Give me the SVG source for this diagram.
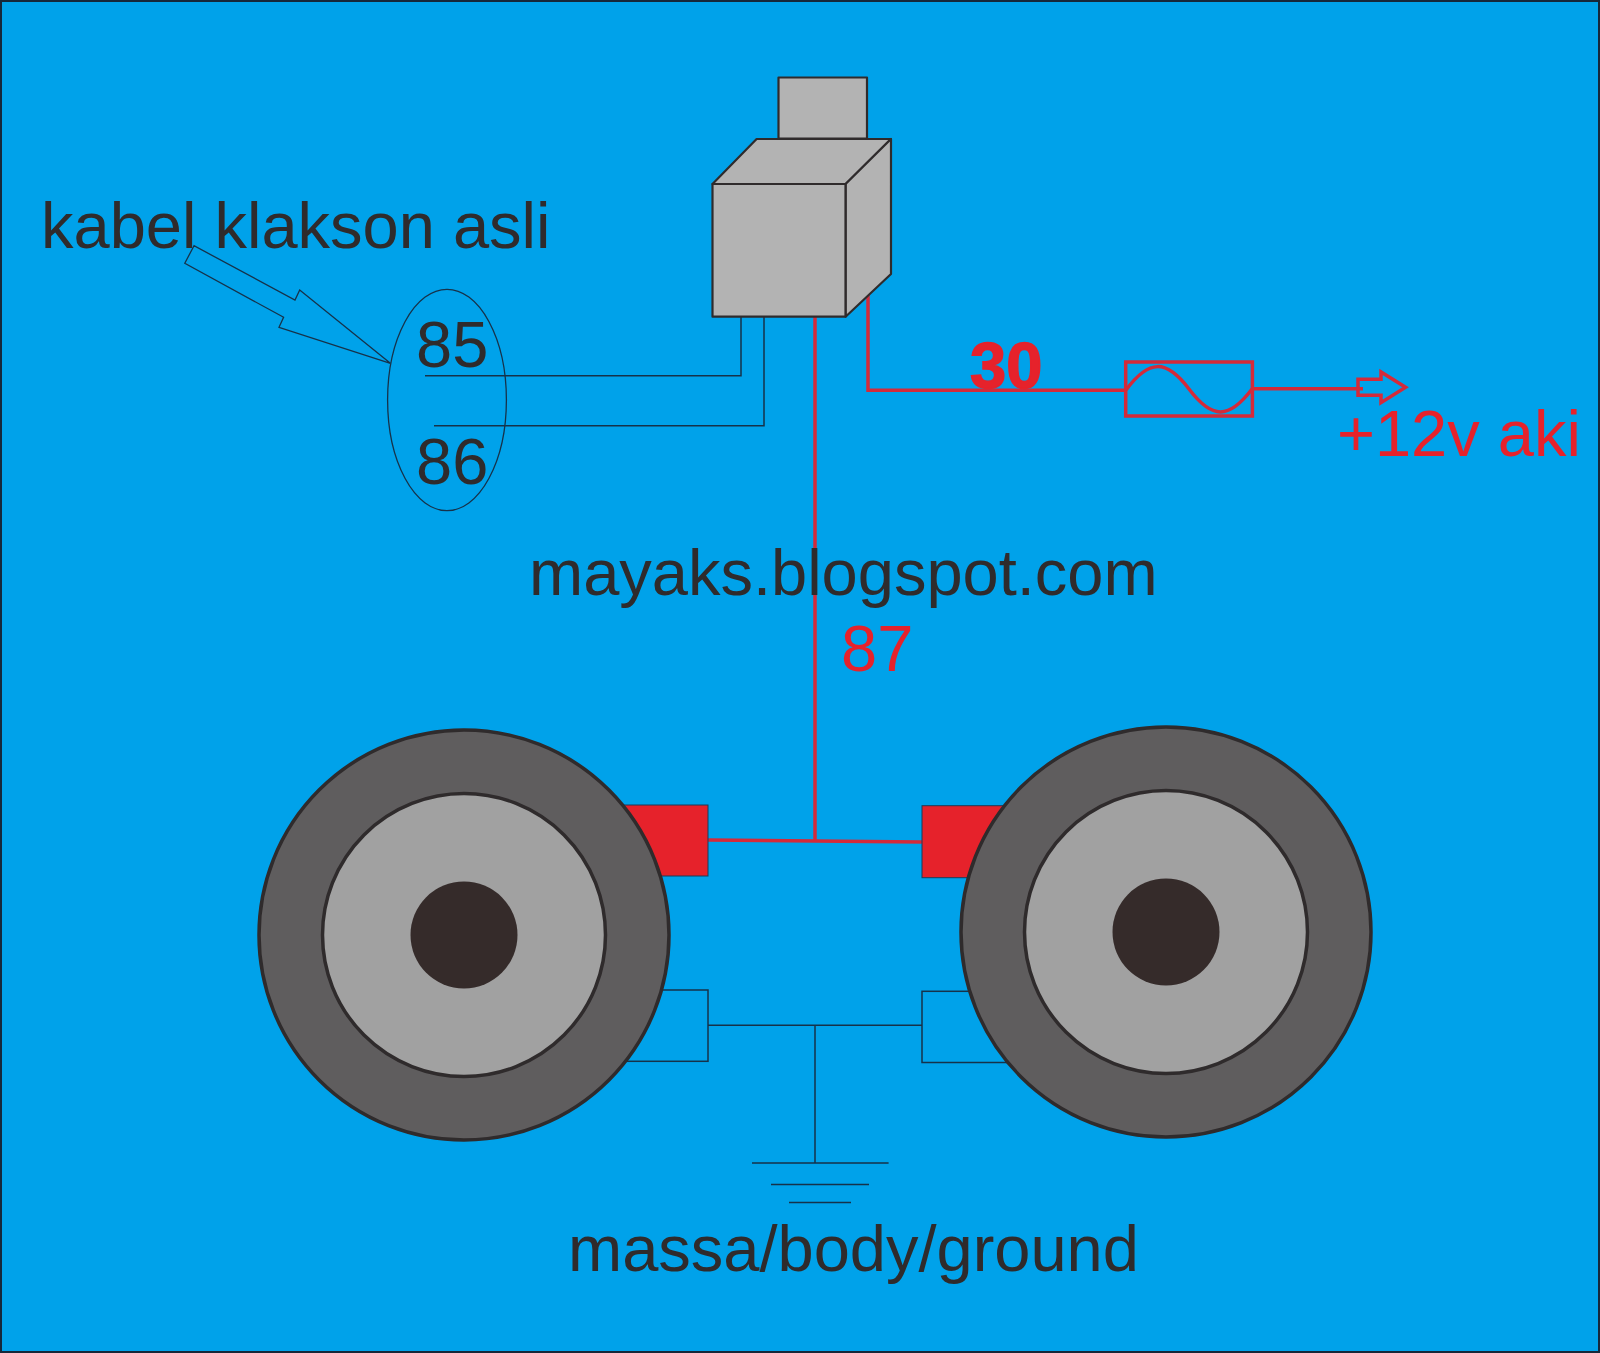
<svg xmlns="http://www.w3.org/2000/svg" width="1600" height="1353" viewBox="0 0 1600 1353">
<style>
text{font-family:"Liberation Sans",Arial,sans-serif;font-size:65px;fill:#2f2b2c}
text.r{fill:#e6222b}
.w{fill:none;stroke:#16324a;stroke-width:1.5}
.rw{fill:none;stroke:#d42a3a;stroke-width:3.5}
.rl{fill:#b3b3b3;stroke:#2f2b2c;stroke-width:2.2;stroke-linejoin:round}
.t{fill:#5f5d5e;stroke:#2f2b2c;stroke-width:3.5}
.c{fill:#a1a1a1;stroke:#2f2b2c;stroke-width:3.5}
.h{fill:#352b2a}
.rb{fill:#e6222b;stroke:#1d3b58;stroke-width:1}
.fs{fill:none;stroke:#d42a3a;stroke-width:3.5}
</style>
<rect id="background" x="1" y="1" width="1598" height="1351" fill="#00a2ea" stroke="#16283a" stroke-width="2"/>
<g id="connectors">
<path class="w" d="M741 317V375.7H425"/>
<path class="w" d="M764 317V425.7H434"/>
<path class="rw" d="M815 317V841"/>
<path class="rw" d="M708 840L922 842"/>
<path class="rw" d="M868 295V390.3H1126"/>
<path class="rw" d="M1252 388.7H1363"/>
<path class="w" d="M708 1025.3H922M815 1025.3V1163"/>
</g>
<g id="ground">
<path class="w" d="M752 1163H888.6M771 1184.5H869M789 1202.5H851"/>
</g>
<g id="relay">
<rect class="rl" x="778.5" y="77.5" width="88.5" height="61"/>
<path class="rl" d="M712.5 184L756.6 139H891L845.6 184Z"/>
<path class="rl" d="M845.6 184L891 139V274L845.6 316.7Z"/>
<rect class="rl" x="712.5" y="184" width="133" height="132.7"/>
</g>
<g id="label-group">
<ellipse cx="447" cy="400" rx="59.4" ry="110.7" fill="none" stroke="#16324a" stroke-width="1.3"/>
<path d="M194 245.7L184.8 263.3L283.6 317.3L279 327.3L390.4 363.3L299.7 290L295 300Z" fill="none" stroke="#16324a" stroke-width="1.3"/>
<text x="41" y="248">kabel klakson asli</text>
<text x="416" y="367">85</text>
<text x="416" y="484">86</text>
</g>
<g id="fuse">
<rect class="fs" x="1125.7" y="362" width="126.7" height="54"/>
<path class="fs" d="M1126 390C1149 359 1166 359 1189 389C1212 419.5 1229 419.5 1252 389"/>
<path class="fs" d="M1358 379.3H1381V372L1405.6 387.3L1381 402.7V395.3H1358Z"/>
</g>
<text class="r" id="label-30" x="970" y="387.5" style="stroke:#e6222b;stroke-width:1.5;font-weight:bold">30</text>
<text class="r" id="label-12v" x="1337" y="456">+12v aki</text>
<text id="label-site" x="529" y="595">mayaks.blogspot.com</text>
<text class="r" id="label-87" x="841" y="671">87</text>
<text id="label-ground" x="568" y="1271">massa/body/ground</text>
<g id="horn-left">
<rect class="rb" x="590" y="805" width="118" height="71"/>
<rect class="w" x="590" y="990" width="118" height="71.3"/>
<circle class="t" cx="464" cy="935" r="205"/>
<circle class="c" cx="464" cy="935" r="141.5"/>
<circle class="h" cx="464" cy="935" r="53.5"/>
</g>
<g id="horn-right">
<rect class="rb" x="922" y="805.7" width="118" height="72"/>
<rect class="w" x="922" y="991.3" width="118" height="71.2"/>
<circle class="t" cx="1166" cy="932" r="205"/>
<circle class="c" cx="1166" cy="932" r="141.5"/>
<circle class="h" cx="1166" cy="932" r="53.5"/>
</g>
</svg>
